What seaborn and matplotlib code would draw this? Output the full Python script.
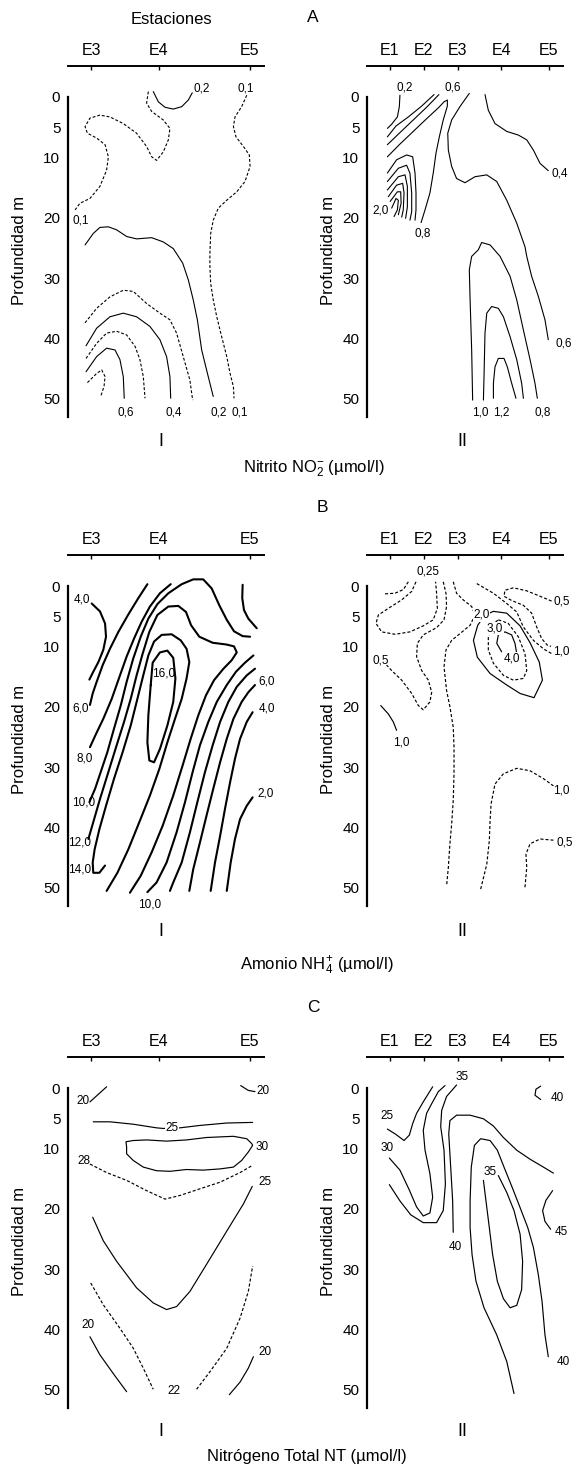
import matplotlib
matplotlib.use('Agg')
import matplotlib.pyplot as plt
import pandas as pd
import seaborn as sns

# ---------------- data ----------------
stations_I = ['E3', 'E4', 'E5']
stations_II = ['E1', 'E2', 'E3', 'E4', 'E5']
station_pos_I = [11.8, 46.2, 92.7]
station_pos_II = [11.6, 28.9, 46.3, 68.6, 92.7]
depth_ticks = [0, 5, 10, 20, 30, 40, 50]

# contour traces: (style, [(distance, depth), ...])
A1_lines = [
    ('solid', [(43.5, -0.9), (46.1, 0.8), (49.5, 1.7), (53.7, 2.0), (58.0, 1.6), (61.4, 0.5), (63.4, -0.7)]),
    ('dash', [(41.0, -0.9), (40.1, 1.0), (42.7, 2.4), (48.6, 3.8), (52.0, 5.2), (51.2, 7.1), (48.6, 9.1), (45.2, 10.5),
              (42.7, 9.9), (40.1, 8.2), (35.0, 6.0), (28.2, 4.4), (21.4, 3.3), (16.3, 3.0), (11.2, 3.5), (8.7, 4.9),
              (9.9, 6.0), (14.6, 6.8), (18.9, 7.9), (20.6, 9.9), (19.7, 12.1), (16.3, 14.8), (11.2, 16.8), (6.1, 17.6),
              (3.6, 18.7)]),
    ('dash', [(91.2, -0.3), (88.6, 1.6), (85.2, 3.3), (84.4, 4.9), (85.7, 6.6), (89.5, 8.2), (92.5, 9.6), (92.9, 11.5),
              (90.3, 14.0), (86.1, 15.7), (81.0, 17.1), (76.7, 18.4), (74.1, 20.4), (72.8, 22.6), (72.4, 25.9),
              (72.4, 28.1), (72.8, 30.9), (74.1, 33.6), (75.9, 36.4), (78.4, 39.7), (81.0, 43.0), (82.7, 45.8),
              (84.4, 48.0), (84.7, 49.9)]),
    ('solid', [(8.7, 24.5), (12.9, 22.6), (16.3, 21.6), (20.6, 21.5), (24.8, 22.0), (29.9, 23.1), (35.0, 23.5),
               (42.7, 23.3), (48.6, 24.0), (53.7, 25.1), (58.5, 27.5), (61.4, 30.3), (63.9, 33.6), (66.0, 36.9),
               (68.2, 41.9), (70.7, 45.2), (74.1, 49.6)]),
    ('dash', [(8.7, 37.4), (14.6, 35.0), (21.4, 33.1), (28.2, 32.0), (33.3, 32.2), (40.1, 34.2), (46.9, 35.8),
              (52.0, 36.9), (55.4, 39.1), (58.8, 43.0), (62.2, 46.9), (63.6, 50.2)]),
    ('solid', [(9.2, 41.2), (14.6, 38.3), (21.4, 36.4), (28.2, 35.8), (35.0, 36.4), (41.8, 38.0), (46.9, 40.2),
               (50.3, 43.0), (52.0, 46.3), (52.4, 49.9)]),
    ('dash', [(9.2, 43.3), (14.6, 40.8), (19.7, 39.1), (24.8, 38.8), (29.9, 39.4), (34.2, 41.3), (36.7, 43.5),
              (38.4, 46.3), (39.3, 49.9)]),
    ('solid', [(9.2, 45.5), (14.6, 43.0), (19.7, 41.6), (24.0, 41.9), (26.5, 43.5), (28.2, 46.3), (28.7, 49.9)]),
    ('dash', [(9.9, 47.3), (14.6, 45.8), (17.2, 45.2), (18.9, 46.3), (18.4, 47.9), (16.7, 49.6)]),
]
A1_labels = [('0,2', 68.2, -1.4, False), ('0,1', 90.8, -1.4, False), ('0,1', 6.5, 20.4, False),
             ('0,6', 29.6, 52.3, False), ('0,4', 54.1, 52.3, False), ('0,2', 76.7, 52.3, False),
             ('0,1', 87.4, 52.3, False)]

A2_lines = [
    ('solid', [(16.8, -0.3), (16.5, 1.6), (15.5, 3.3), (12.6, 4.5), (10.4, 5.2)]),
    ('solid', [(34.2, -0.4), (27.9, 1.5), (21.1, 3.3), (14.8, 4.8), (10.4, 6.6)]),
    ('solid', [(36.7, -0.4), (30.4, 1.7), (23.6, 3.8), (16.8, 5.9), (10.4, 7.9)]),
    ('solid', [(10.4, 9.9), (16.8, 7.8), (23.6, 5.7), (30.4, 3.6), (36.4, 1.8), (39.3, 0.8), (41.0, 0.5), (41.0, 1.5),
               (38.9, 3.8), (36.9, 6.6), (35.2, 9.3), (33.8, 12.6), (32.1, 15.9), (29.6, 18.7), (27.6, 20.8)]),
    ('solid', [(10.4, 12.6), (15.1, 10.4), (20.2, 9.6), (23.3, 9.9), (24.5, 12.6), (25.0, 15.9), (25.0, 18.7), (24.5, 20.4)]),
    ('solid', [(10.4, 14.0), (16.0, 11.8), (20.2, 11.3), (21.9, 12.6), (22.8, 15.9), (22.8, 19.0), (21.9, 20.4)]),
    ('solid', [(10.4, 15.4), (16.0, 13.2), (19.4, 12.9), (20.6, 14.8), (20.6, 18.2), (19.7, 20.1)]),
    ('solid', [(10.9, 16.5), (15.1, 14.6), (18.2, 14.3), (18.9, 15.9), (18.5, 18.7), (17.7, 19.9)]),
    ('solid', [(11.8, 17.3), (15.5, 15.7), (17.2, 15.7), (17.4, 17.6), (16.0, 19.5)]),
    ('solid', [(12.6, 18.4), (14.8, 16.8), (16.0, 17.1), (15.5, 18.7), (13.8, 19.8)]),
    ('solid', [(52.2, -0.6), (47.4, 1.6), (43.2, 3.8), (41.2, 6.0), (41.5, 8.8), (43.2, 11.5), (45.7, 13.5), (50.0, 14.2),
               (55.1, 13.2), (61.1, 12.9), (66.2, 14.0), (71.3, 17.1), (76.4, 20.9), (80.6, 24.8), (81.5, 26.4),
               (84.0, 29.7), (87.4, 33.0), (90.8, 36.9), (92.5, 40.2)]),
    ('solid', [(60.2, -0.4), (61.9, 2.2), (65.3, 4.4), (71.3, 5.7), (77.2, 6.3), (81.5, 7.1), (84.9, 8.8), (88.3, 11.0),
               (92.5, 12.2)]),
    ('solid', [(53.9, 50.2), (53.4, 41.9), (52.6, 33.6), (52.2, 28.6), (53.4, 26.4), (56.8, 25.3), (58.5, 24.1),
               (62.8, 24.5), (67.9, 26.4), (73.0, 29.7), (76.4, 33.6), (79.8, 38.6), (83.2, 43.5), (85.7, 47.4),
               (86.9, 49.9)]),
    ('solid', [(59.4, 50.2), (59.7, 46.3), (60.2, 39.1), (61.1, 35.8), (63.6, 34.7), (67.0, 35.0), (69.6, 36.4),
               (73.0, 39.7), (76.4, 43.5), (78.9, 47.4), (79.8, 49.9)]),
    ('solid', [(64.5, 49.9), (64.5, 47.4), (65.3, 44.7), (67.0, 43.3), (69.9, 43.3), (71.6, 44.7), (73.8, 47.4), (76.0, 49.9)]),
]
A2_labels = [('0,2', 19.4, -1.6, False), ('0,6', 43.7, -1.6, False), ('0,4', 98.5, 12.6, False),
             ('2,0', 7.0, 18.8, False), ('0,8', 28.4, 22.6, False), ('0,6', 100.2, 40.8, False),
             ('1,0', 58.0, 52.3, False), ('1,2', 68.7, 52.3, False), ('0,8', 89.6, 52.3, False)]

B1_lines = [
    ('solid', [(12.1, 2.9), (16.3, 4.2), (18.9, 6.2), (19.4, 8.4), (18.0, 10.6), (15.5, 12.6), (12.9, 14.2), (10.9, 15.5)]),
    ('solid', [(40.5, -0.3), (35.9, 2.0), (30.8, 4.7), (25.7, 7.6), (21.4, 10.4), (17.7, 13.1), (14.6, 15.9),
               (12.6, 17.8), (11.2, 19.7)]),
    ('solid', [(52.4, -0.3), (46.9, 1.2), (41.8, 3.4), (37.6, 5.9), (33.7, 8.7), (29.9, 11.7), (26.2, 15.1),
               (22.3, 18.7), (18.0, 22.0), (14.3, 24.5), (11.2, 26.7)]),
    ('solid', [(92.9, 8.4), (89.1, 8.3), (84.7, 7.5), (81.0, 5.6), (77.2, 3.2), (73.3, 0.4), (69.0, -1.1), (63.9, -1.1),
               (58.0, -0.3), (51.2, 1.2), (45.6, 3.0), (41.0, 5.4), (37.1, 8.4), (33.3, 12.0), (29.9, 15.9),
               (26.9, 19.8), (23.5, 23.6), (20.1, 27.5), (16.7, 30.8), (13.8, 33.6), (10.9, 35.8)]),
    ('solid', [(10.4, 41.9), (12.9, 39.1), (16.3, 35.3), (20.6, 30.8), (24.8, 26.4), (28.6, 22.5), (32.0, 18.7),
               (35.0, 14.8), (38.1, 11.2), (41.5, 7.6), (45.6, 4.8), (51.2, 3.4), (56.3, 3.3), (60.2, 4.3),
               (62.8, 6.5), (67.0, 8.4), (73.8, 9.4), (81.0, 9.7), (84.7, 10.0), (86.1, 11.0), (83.5, 12.3),
               (79.3, 13.7), (74.5, 15.6), (70.4, 18.1), (66.5, 21.4), (62.6, 25.3), (58.5, 29.7), (53.7, 34.7),
               (48.3, 39.7), (42.7, 44.1), (37.1, 48.0), (31.6, 50.8)]),
    ('solid', [(19.7, 50.5), (25.2, 47.5), (30.8, 43.6), (36.4, 39.1), (41.8, 34.7), (46.6, 30.3), (50.7, 25.9),
               (54.6, 22.0), (58.0, 18.7), (60.5, 15.3), (61.9, 12.6), (60.5, 10.4), (57.5, 9.0), (52.9, 8.0),
               (47.8, 8.1), (43.9, 9.2), (41.0, 11.5), (38.4, 14.8), (35.4, 18.7), (32.0, 23.1), (27.9, 27.5),
               (23.5, 31.9), (19.4, 36.4), (16.0, 40.3), (13.6, 43.6), (12.6, 45.8), (12.9, 47.5), (16.0, 47.5),
               (18.9, 46.3)]),
    ('solid', [(42.2, 16.4), (43.2, 12.7), (46.9, 11.0), (50.7, 10.7), (53.7, 11.9), (54.8, 15.3), (53.7, 19.2),
               (50.7, 23.1), (46.9, 27.0), (43.9, 29.2), (41.5, 28.9), (40.5, 25.9), (41.0, 21.4), (42.2, 16.4)]),
    ('solid', [(94.6, 11.5), (90.3, 12.7), (85.7, 14.2), (81.0, 16.4), (75.9, 19.2), (71.6, 22.5), (67.3, 26.4),
               (63.6, 30.8), (59.7, 35.8), (55.4, 40.8), (50.3, 45.8), (45.2, 49.1), (40.5, 50.7)]),
    ('solid', [(95.4, 13.7), (91.2, 14.8), (86.1, 16.7), (81.8, 19.2), (77.6, 22.5), (73.8, 26.4), (69.9, 30.8),
               (66.0, 35.8), (62.2, 40.8), (58.0, 45.8), (53.7, 49.1), (52.0, 50.5)]),
    ('solid', [(95.4, 16.4), (92.0, 17.6), (88.6, 19.2), (84.4, 22.0), (81.0, 25.3), (77.6, 29.2), (74.1, 33.6),
               (70.7, 38.0), (67.3, 42.5), (63.9, 46.9), (61.9, 50.5)]),
    ('solid', [(94.2, 20.9), (91.2, 22.5), (87.8, 25.3), (85.2, 28.6), (82.7, 32.5), (80.1, 36.9), (77.6, 41.4),
               (75.0, 45.8), (72.8, 50.5)]),
    ('solid', [(94.2, 35.0), (91.2, 36.4), (87.8, 38.6), (85.2, 41.9), (83.0, 45.8), (81.0, 50.5)]),
    ('solid', [(89.1, -0.2), (88.9, 2.0), (89.8, 4.0), (92.0, 5.4), (96.3, 7.0)]),
]
B1_labels = [('4,0', 7.3, 2.2, False), ('6,0', 6.5, 20.3, False), ('8,0', 8.7, 28.5, False),
             ('10,0', 7.8, 35.8, False), ('12,0', 5.8, 42.5, False), ('14,0', 5.8, 46.9, False),
             ('16,0', 48.6, 14.5, False), ('6,0', 101.4, 15.8, False), ('4,0', 101.4, 20.3, False),
             ('2,0', 100.9, 34.4, False), ('10,0', 41.8, 52.7, False)]

B2_lines = [
    ('dash', [(9.2, 1.3), (14.3, 1.2), (18.5, 0.6), (21.1, -0.7)]),
    ('dash', [(25.0, -0.7), (22.8, 0.9), (17.7, 2.3), (10.9, 3.7), (5.8, 4.8), (4.6, 6.2), (7.5, 7.6), (14.3, 8.0),
              (21.9, 7.6), (28.7, 6.6), (33.8, 5.6), (35.9, 3.7), (35.5, 1.2), (35.0, -0.7)]),
    ('dash', [(38.9, -0.7), (40.3, 1.2), (40.6, 3.4), (39.3, 5.6), (35.5, 6.9), (28.7, 8.1), (25.7, 9.5), (25.3, 11.7),
              (27.9, 14.0), (31.3, 15.6), (33.0, 17.6), (32.1, 19.2), (28.7, 20.5), (26.2, 19.8), (22.8, 17.8),
              (17.7, 15.6), (12.6, 14.0), (10.0, 13.1)]),
    ('dash', [(44.0, -0.7), (45.7, 1.2), (49.1, 2.3), (53.4, 3.4), (55.1, 4.8), (52.6, 6.5), (47.4, 7.9), (43.2, 9.0),
              (40.3, 10.6), (39.3, 13.4), (40.6, 17.3), (42.3, 20.0), (44.0, 23.4), (44.4, 26.7), (44.4, 31.1),
              (44.0, 35.5), (43.2, 39.4), (42.3, 42.7), (41.5, 46.6), (40.6, 49.7)]),
    ('dash', [(56.0, -0.4), (64.5, 1.2), (71.3, 2.9), (76.4, 4.3), (79.8, 6.8), (84.9, 9.0), (90.0, 10.4), (94.2, 11.2)]),
    ('dash', [(94.2, 2.5), (88.3, 1.7), (81.5, 0.8), (74.7, 0.3), (70.4, 0.7), (69.9, 1.7), (73.8, 2.4), (79.8, 3.2),
              (84.0, 4.5), (86.6, 6.8), (89.1, 8.7), (92.0, 9.8), (93.9, 10.0)]),
    ('solid', [(60.2, 4.8), (64.5, 4.2), (71.3, 4.5), (78.1, 6.6), (83.2, 9.4), (87.9, 12.6), (89.5, 15.6), (85.2, 18.5),
               (78.1, 17.8), (71.3, 16.4), (62.8, 14.5), (56.3, 11.8), (54.3, 9.0), (56.5, 6.5), (60.2, 4.8)]),
    ('dash', [(67.0, 5.6), (72.1, 6.2), (77.2, 8.4), (80.6, 11.2), (81.5, 14.0), (79.8, 15.3), (74.7, 15.6), (69.6, 14.8),
              (64.5, 12.8), (61.9, 10.6), (61.9, 8.4), (63.6, 6.5), (67.0, 5.6)]),
    ('solid', [(68.7, 10.9), (66.2, 9.5), (67.0, 8.1), (70.4, 7.6), (73.8, 8.1), (75.5, 9.5), (76.4, 11.2)]),
    ('solid', [(7.0, 19.8), (10.9, 21.2), (13.4, 22.5), (15.1, 23.9)]),
    ('dash', [(58.0, 50.2), (61.1, 46.1), (62.4, 42.2), (62.8, 38.9), (63.3, 36.1), (65.3, 32.8), (69.6, 31.1),
              (76.4, 30.2), (83.2, 30.6), (90.0, 31.9), (95.1, 33.1)]),
    ('dash', [(80.6, 49.9), (81.5, 46.6), (81.1, 44.4), (83.2, 42.7), (88.3, 41.9), (95.1, 42.1)]),
]
B2_labels = [('0,25', 31.3, -2.4, False), ('0,5', 99.3, 2.6, False), ('2,0', 58.5, 4.8, True),
             ('3,0', 65.3, 7.0, True), ('4,0', 73.8, 12.0, True), ('1,0', 99.3, 10.9, False),
             ('0,5', 7.0, 12.3, False), ('1,0', 17.7, 26.0, False), ('1,0', 99.3, 33.9, False),
             ('0,5', 101.0, 42.5, False)]

C1_lines = [
    ('solid', [(11.2, 2.3), (19.7, -0.2)]),
    ('solid', [(88.1, -0.4), (92.0, 0.4), (95.4, 0.6)]),
    ('solid', [(12.9, 5.6), (21.4, 5.6), (33.3, 6.0), (45.2, 6.6), (48.6, 6.7), (57.1, 6.6), (67.3, 6.2), (81.0, 5.8),
               (94.2, 5.7)]),
    ('solid', [(29.9, 9.8), (29.6, 8.9), (33.3, 8.7), (40.1, 8.6), (50.3, 8.8), (60.5, 8.6), (70.7, 8.2), (84.4, 8.0),
               (91.2, 8.4), (93.7, 9.2), (94.2, 9.5), (92.0, 10.6), (88.6, 12.0), (84.4, 13.1), (77.6, 13.4),
               (69.0, 13.6), (60.5, 13.5), (52.0, 13.8), (45.2, 13.7), (38.4, 13.1), (33.3, 12.0), (29.9, 10.9),
               (29.9, 9.8)]),
    ('dash', [(11.2, 12.6), (19.7, 14.0), (29.9, 15.3), (40.1, 17.0), (49.5, 18.4), (57.1, 17.8), (67.3, 16.7),
              (77.6, 15.6), (87.8, 14.0), (94.2, 12.8)]),
    ('solid', [(12.6, 21.4), (18.0, 25.3), (24.8, 28.7), (35.0, 33.1), (43.5, 35.6), (50.3, 36.7), (55.4, 36.2),
               (62.2, 33.7), (70.7, 29.2), (81.0, 23.7), (89.5, 19.2), (94.0, 16.3)]),
    ('dash', [(11.6, 32.3), (18.0, 35.9), (26.5, 39.8), (33.3, 43.1), (38.4, 46.4), (43.5, 49.9)]),
    ('dash', [(65.6, 49.9), (72.4, 47.0), (81.0, 43.1), (87.8, 38.1), (92.0, 33.7), (94.2, 29.5)]),
    ('solid', [(11.2, 41.2), (16.3, 44.2), (23.1, 47.3), (29.9, 50.3)]),
    ('solid', [(82.3, 50.8), (87.8, 48.7), (92.0, 46.4), (94.6, 44.5)]),
]
C1_labels = [('20', 7.8, 2.2, False), ('20', 99.6, 0.5, False), ('25', 52.9, 6.7, True),
             ('30', 98.8, 9.8, False), ('28', 8.2, 12.1, False), ('25', 100.5, 15.6, False),
             ('22', 54.3, 50.2, False), ('20', 10.0, 39.3, False), ('20', 100.5, 43.7, False)]

C2_lines = [
    ('solid', [(10.4, 6.8), (14.8, 7.7), (18.9, 8.7), (21.6, 7.8), (23.3, 5.9), (25.3, 4.2), (28.7, 2.3), (33.5, -0.2)]),
    ('solid', [(11.4, 11.6), (16.8, 13.6), (21.6, 16.9), (25.3, 19.7), (28.7, 21.2), (32.1, 20.7), (33.5, 18.1),
               (32.1, 14.2), (29.6, 10.3), (28.7, 7.0), (30.4, 4.2), (33.0, 2.6), (36.4, 0.6), (39.8, -0.4)]),
    ('solid', [(11.4, 16.0), (16.8, 18.7), (22.3, 21.0), (28.7, 22.3), (35.5, 22.3), (38.9, 20.3), (40.0, 15.9),
               (39.3, 10.3), (37.6, 6.4), (38.1, 3.7), (40.6, 1.4), (45.7, -0.5)]),
    ('solid', [(44.0, 23.9), (43.7, 18.7), (42.7, 13.1), (41.7, 7.6), (42.3, 5.4), (45.7, 4.5), (52.6, 4.5), (59.4, 5.1),
               (64.5, 6.3), (69.6, 8.2), (76.4, 10.3), (83.2, 11.8), (90.0, 13.1), (95.1, 14.1)]),
    ('solid', [(75.0, 50.6), (71.3, 45.3), (66.2, 40.9), (59.7, 36.4), (55.6, 32.0), (53.6, 27.6), (52.6, 23.1),
               (52.6, 18.7), (53.2, 13.1), (54.8, 9.5), (58.0, 8.4), (62.8, 8.7), (66.5, 10.3), (69.9, 13.1),
               (74.0, 16.4), (78.1, 19.8), (82.0, 23.1), (84.9, 26.4), (87.4, 30.9), (89.3, 35.3), (90.8, 40.9),
               (92.5, 44.5)]),
    ('solid', [(59.4, 15.3), (60.7, 18.7), (62.4, 23.1), (64.1, 27.6), (66.5, 32.0), (69.6, 34.9), (73.0, 36.4),
               (76.4, 36.0), (78.9, 33.4), (79.4, 28.7), (78.1, 24.2), (75.0, 20.3), (71.3, 17.3), (67.0, 14.5)]),
    ('solid', [(94.7, 17.0), (91.3, 18.6), (89.6, 20.3), (90.8, 22.1), (93.7, 23.4)]),
    ('solid', [(88.6, -0.3), (86.2, 0.2), (85.7, 1.2), (88.6, 1.9)]),
]
C2_labels = [('25', 10.0, 4.7, False), ('30', 10.0, 9.9, False), ('35', 48.3, -1.9, False),
             ('40', 45.2, 26.4, False), ('35', 62.8, 13.9, False), ('45', 99.3, 23.9, False),
             ('40', 100.2, 45.3, False), ('40', 97.3, 1.7, False)]

captions = ['Nitrito NO$_{2}^{-}$ (µmol/l)', 'Amonio NH$_{4}^{+}$ (µmol/l)', 'Nitrógeno Total NT (µmol/l)']
row_letters = ['A', 'B', 'C']

# ---------------- style ----------------
sns.set_style('white')
REG = ['Liberation Sans', 'DejaVu Sans']
plt.rcParams['font.family'] = REG
plt.rcParams['mathtext.fontset'] = 'custom'
plt.rcParams['mathtext.rm'] = 'Liberation Sans'
plt.rcParams['mathtext.it'] = 'Liberation Sans:italic'
plt.rcParams['mathtext.bf'] = 'Liberation Sans:bold'
plt.rcParams['axes.edgecolor'] = 'black'
plt.rcParams['xtick.color'] = 'black'
plt.rcParams['ytick.color'] = 'black'
plt.rcParams['text.color'] = 'black'

W, H = 572, 1469
fig = plt.figure(figsize=(W / 100, H / 100), dpi=100)


def make_axes(x0, ytop, w=196, h=320):
    return fig.add_axes([x0 / W, 1 - (ytop + h) / H, w / W, h / H])


def draw_panel(ax, lines, labels, stations, pos, lw, ylab_x):
    rows = []
    for i, (style, pts) in enumerate(lines):
        for x, d in pts:
            rows.append({'dist': x, 'depth': d, 'line': i, 'style': style})
    df = pd.DataFrame(rows)
    sns.lineplot(data=df, x='dist', y='depth', units='line', estimator=None, sort=False,
                 style='style', dashes={'solid': '', 'dash': (2.6, 1.7)}, color='black',
                 linewidth=lw, legend=False, ax=ax)
    for ln in ax.lines:
        ln.set_clip_on(False)
    for txt, x, d, boxed in labels:
        kw = {}
        if boxed:
            kw['bbox'] = dict(boxstyle='square,pad=0.05', fc='white', ec='none')
        ax.text(x, d, txt, ha='center', va='center', fontsize=8.5, clip_on=False, zorder=5, **kw)
    ax.set_xlim(0, 100)
    ax.set_ylim(53, 0)
    for s in ['right', 'bottom']:
        ax.spines[s].set_visible(False)
    ax.spines['top'].set_position(('outward', 22))
    ax.spines['top'].set_linewidth(1.4)
    ax.spines['left'].set_linewidth(1.6)
    ax.xaxis.tick_top()
    ax.set_xticks(pos)
    ax.set_xticklabels(stations)
    ax.set_yticks(depth_ticks)
    ax.set_yticklabels([str(t) for t in depth_ticks])
    ax.tick_params(axis='x', direction='in', length=3, width=1, pad=6, labelsize=11.5)
    ax.tick_params(axis='y', direction='in', length=3, width=1.2, pad=5.5, labelsize=11)
    ax.set_xlabel('')
    ax.set_ylabel('')
    ax.text(ylab_x, 0.52, 'Profundidad m', rotation=90, ha='center', va='center',
            fontsize=12, transform=ax.transAxes)


row_tops = [97, 586, 1088]
panels = [
    (A1_lines, A1_labels, A2_lines, A2_labels, 0.8),
    (B1_lines, B1_labels, B2_lines, B2_labels, None),
    (C1_lines, C1_labels, C2_lines, C2_labels, 0.85),
]
for r, (l1, lab1, l2, lab2, lw) in enumerate(panels):
    ax1 = make_axes(68, row_tops[r])
    ax2 = make_axes(367, row_tops[r])
    draw_panel(ax1, l1, lab1, stations_I, station_pos_I, 1.5 if lw is None else lw, -0.245)
    draw_panel(ax2, l2, lab2, stations_II, station_pos_II, 0.85 if lw is None else lw, -0.196)

# row texts
letter_pos = [(313, 18), (322, 508), (313, 1007)]
roman_y = [442, 932, 1432]
caption_pos = [(314, 469), (317, 966), (307, 1457)]
for r in range(3):
    lx, ly = letter_pos[r]
    fig.text(lx / W, 1 - ly / H, row_letters[r], ha='center', va='center', fontsize=12.5)
    fig.text(161 / W, 1 - roman_y[r] / H, 'I', ha='center', va='center', fontsize=13)
    fig.text(462 / W, 1 - roman_y[r] / H, 'II', ha='center', va='center', fontsize=13)
    cx, cy = caption_pos[r]
    fig.text(cx / W, 1 - cy / H, captions[r], ha='center', va='center', fontsize=12)
fig.text(171 / W, 1 - 20 / H, 'Estaciones', ha='center', va='center', fontsize=12)

fig.savefig('out.png', dpi=100)
